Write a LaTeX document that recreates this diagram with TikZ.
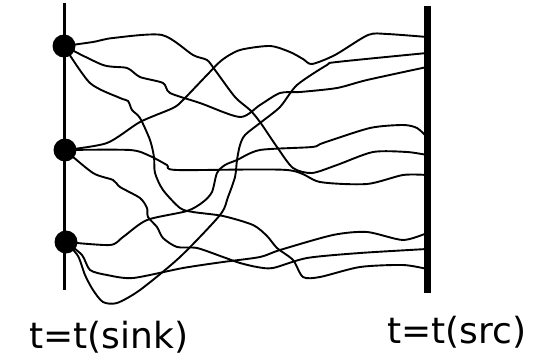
\documentclass[tikz,border=0pt]{standalone}
\usepackage{fontspec}
\setmainfont{DejaVu Sans}
\usetikzlibrary{positioning}

\begin{document}
\begin{tikzpicture}[x=1pt,y=-1pt,
  walk/.style={line width=1.9pt,line join=round,line cap=round},
  dot/.style={circle,fill=black,inner sep=0pt,minimum size=23pt},
  lbl/.style={anchor=base west,inner sep=0pt,font=\fontsize{36}{42}\selectfont}]
\useasboundingbox (0,0) rectangle (539,361);
% time axes
\coordinate (sinktop) at (64.5,3);
\coordinate (sinkbot) at (64.5,290);
\coordinate (srctop) at (427.5,6);
\coordinate (srcbot) at (427.5,293);
\foreach \y [count=\i] in {37,53,67,137,155,175,233,249,269}
  \coordinate (e\i) at (427,\y);
\coordinate (T) at (64,46);
\coordinate (M) at (65,150);
\coordinate (B) at (66,242);
% paths from the sink side to the source side
\draw[walk] plot[smooth,tension=0.45] coordinates {(T) (93,42) (113,38) (162,35) (193,55) (207,60) (215,70) (235,97) (250,110) (260,122) (277,147) (293,168) (312,173) (337,165) (373,152) (407,152) (e5)};
\draw[walk] plot[smooth,tension=0.45] coordinates {(T) (103,65) (127,68) (140,77) (163,83) (170,93) (200,103) (240,117) (260,105) (280,93) (300,92) (337,88) (367,80) (e3)};
\draw[walk] plot[smooth,tension=0.45] coordinates {(T) (90,83) (120,98) (128,101) (132,110) (140,118) (150,140) (154,157) (155,173) (163,190) (180,208) (193,212) (223,216) (253,225) (267,236) (277,248) (293,260) (303,277) (320,277) (360,267) (403,265) (e9)};
\draw[walk] plot[smooth,tension=0.45] coordinates {(M) (107,143) (140,122) (173,108) (183,100) (207,75) (222,60) (240,50) (270,46) (290,52) (303,59) (312,64) (335,55) (368,35) (387,34) (e1)};
\draw[walk] plot[smooth,tension=0.45] coordinates {(M) (130,150) (150,156) (167,165) (177,170) (287,170) (320,182) (367,184) (403,175) (e6)};
\draw[walk] plot[smooth,tension=0.45] coordinates {(M) (93,173) (113,180) (120,187) (140,198) (147,208) (148,217) (157,227) (163,238) (177,247) (197,248) (223,257) (240,263) (257,267) (273,268) (307,258) (360,253) (e8)};
\draw[walk] plot[smooth,tension=0.45] coordinates {(B) (110,245) (123,237) (147,220) (187,211) (203,202) (212,192) (217,173) (225,165) (237,160) (260,150) (312,147) (323,143) (370,128) (403,125) (417,128) (e4)};
\draw[walk] plot[smooth,tension=0.45] coordinates {(B) (82,255) (90,270) (107,275) (133,278) (183,268) (223,262) (260,257) (280,250) (333,235) (367,232) (403,240) (e7)};
\draw[walk] plot[smooth,tension=0.45] coordinates {(B) (78,256) (85,275) (93,290) (103,302) (117,303) (140,290) (180,257) (220,215) (228,197) (235,177) (237,160) (240,145) (245,135) (260,123) (280,107) (297,85) (327,65) (337,62) (e2)};
\draw[line width=2.2pt] (sinktop) -- (sinkbot);
\draw[line width=7pt] (srctop) -- (srcbot);
\node[dot] (t1) at (T) {};
\node[dot] (t2) at (M) {};
\node[dot] (t3) at (B) {};
\node[lbl] (sink) at (29,348) {t=t(sink)};
\node[lbl] (src) at (387,343) {t=t(src)};
\end{tikzpicture}
\end{document}
